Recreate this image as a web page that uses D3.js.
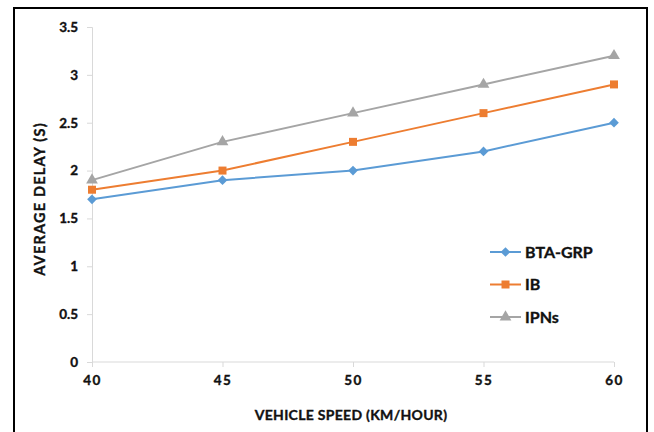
<!DOCTYPE html>
<html>
<head>
<meta charset="utf-8">
<script src="https://cdn.jsdelivr.net/npm/d3@7"></script>
<style>
  html, body { margin: 0; padding: 0; background: #fff; }
  svg { display: block; }
  text { font-family: Lato, "Open Sans", sans-serif; font-weight: bold; fill: #111; stroke: #111; stroke-width: 0.35px; }
</style>
</head>
<body>
<svg id="chart" width="654" height="432"></svg>
<script>
// Vehicle speed (km/h) against average delay (s) for three schemes
const speeds = [40, 45, 50, 55, 60];
const btaGrp = [1.7, 1.9, 2.0, 2.2, 2.5];
const ib     = [1.8, 2.0, 2.3, 2.6, 2.9];
const ipns   = [1.9, 2.3, 2.6, 2.9, 3.2];
const yTicks = [0, 0.5, 1, 1.5, 2, 2.5, 3, 3.5];
const seriesNames = ["BTA-GRP", "IB", "IPNs"];

const series = [
  { name: seriesNames[0], values: btaGrp, color: "#5B9BD5", symbol: d3.symbolDiamond2, size: 60 },
  { name: seriesNames[1], values: ib,     color: "#ED7D31", symbol: d3.symbolSquare,   size: 64 },
  { name: seriesNames[2], values: ipns,   color: "#A5A5A5", symbol: d3.symbolTriangle, size: 60 }
];

const svg = d3.select("#chart");

// outer frame
svg.append("rect")
  .attr("x", 14).attr("y", 8)
  .attr("width", 633).attr("height", 440)
  .attr("fill", "none").attr("stroke", "#000").attr("stroke-width", 2);

const x = d3.scaleLinear().domain([40, 60]).range([92, 614]);
const y = d3.scaleLinear().domain([0, 3.5]).range([362, 27]);

// y axis
const yAxis = svg.append("g")
  .attr("transform", `translate(${x(40)},0)`)
  .call(d3.axisLeft(y).tickValues(yTicks).tickSize(5).tickPadding(9)
    .tickFormat(d => d3.format("~g")(d)));
yAxis.selectAll("path, line").attr("stroke", "#d9d9d9");
yAxis.selectAll("text").style("font-size", "13.5px").attr("fill", "#111");

// x axis
const xAxis = svg.append("g")
  .attr("transform", `translate(0,${y(0)})`)
  .call(d3.axisBottom(x).tickValues(speeds).tickSize(5).tickPadding(8));
xAxis.selectAll("path, line").attr("stroke", "#d9d9d9");
xAxis.selectAll("text").style("font-size", "13.5px").style("letter-spacing", "1.5px").attr("fill", "#111");
xAxis.select(".domain").attr("d", `M${x(40)},0H${x(60)}`);

// axis titles
svg.append("text")
  .attr("x", 351).attr("y", 420)
  .attr("text-anchor", "middle")
  .style("font-size", "14px")
  .style("letter-spacing", "0.3px")
  .text("VEHICLE SPEED (KM/HOUR)");

svg.append("text")
  .attr("transform", `translate(45,199) rotate(-90)`)
  .attr("text-anchor", "middle")
  .style("font-size", "14.5px")
  .style("letter-spacing", "1.2px")
  .text("AVERAGE DELAY (S)");

// lines and markers
const line = d3.line().x((d, i) => x(speeds[i])).y(d => y(d));

series.forEach(s => {
  svg.append("path")
    .datum(s.values)
    .attr("d", line)
    .attr("fill", "none")
    .attr("stroke", s.color)
    .attr("stroke-width", 2);
  svg.selectAll(null)
    .data(s.values)
    .enter().append("path")
    .attr("d", d3.symbol().type(s.symbol).size(s.size))
    .attr("transform", (d, i) => `translate(${x(speeds[i])},${y(d)})`)
    .attr("fill", s.color);
});

// legend
const legend = svg.append("g").attr("transform", "translate(490,252)");
series.forEach((s, i) => {
  const g = legend.append("g").attr("transform", `translate(0,${i * 32.5})`);
  g.append("line").attr("x1", 0).attr("x2", 31).attr("y1", 0).attr("y2", 0)
    .attr("stroke", s.color).attr("stroke-width", 2);
  g.append("path")
    .attr("d", d3.symbol().type(s.symbol).size(s.size))
    .attr("transform", "translate(15.5,0)")
    .attr("fill", s.color);
  g.append("text").attr("x", 35).attr("y", 0).attr("dy", "0.36em")
    .style("font-size", "16px")
    .text(s.name);
});
</script>
</body>
</html>
